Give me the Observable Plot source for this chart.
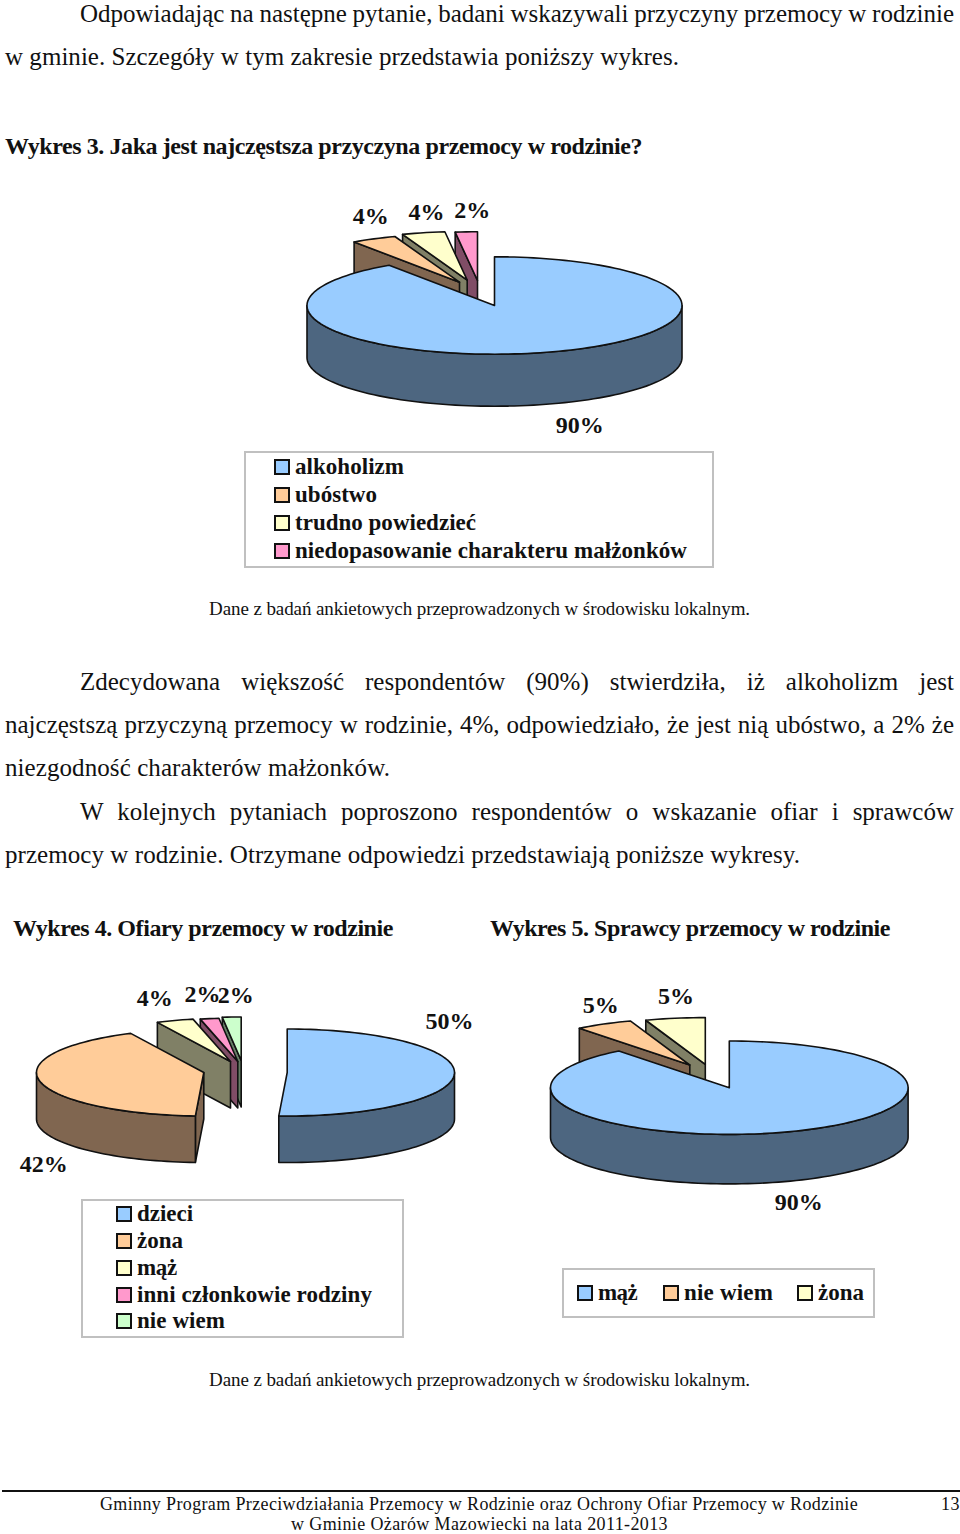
<!DOCTYPE html>
<html lang="pl">
<head>
<meta charset="utf-8">
<script src="https://cdn.jsdelivr.net/npm/d3@7"></script>
<script src="https://cdn.jsdelivr.net/npm/@observablehq/plot@0.6"></script>
<style>
html,body{margin:0;padding:0;background:#fff;}
#page{position:relative;width:960px;height:1534px;overflow:hidden;font-family:"Liberation Serif",serif;color:#111;}
#page>*{position:absolute;}
.ln{white-space:nowrap;line-height:30px;height:30px;}
.body{font-size:25px;}
.head{font-size:24px;font-weight:bold;}
.cap{font-size:19px;}
.foot{font-size:18px;line-height:20px;height:20px;}
.leg{font-size:23px;font-weight:bold;}
.box{border:2px solid #c0c0c0;box-sizing:border-box;}
.sw{width:16px;height:16px;box-sizing:border-box;border:2px solid #111;}
svg text{font-family:"Liberation Serif",serif;}
</style>
</head>
<body>
<div id="page"></div>
<script>
// ---- data ------------------------------------------------------------------
const categories3 = ["alkoholizm", "ubóstwo", "trudno powiedzieć", "niedopasowanie charakteru małżonków"];
const values3 = [90.5, 3.9, 3.7, 1.9];
const labels3 = ["90%", "4%", "4%", "2%"];

const categories4 = ["dzieci", "żona", "mąż", "inni członkowie rodziny", "nie wiem"];
const values4 = [50.8, 42, 3.6, 1.8, 1.8];
const labels4 = ["50%", "42%", "4%", "2%", "2%"];

const categories5 = ["mąż", "nie wiem", "żona"];
const values5 = [89.4, 5.2, 5.4];
const labels5 = ["90%", "5%", "5%"];

// ---- styles and layout ------------------------------------------------------
const topColors3 = ["#99CCFF", "#FFCC99", "#FFFFCC", "#FF99CC"];
const sideColors3 = ["#4D6680", "#806650", "#808066", "#804D66"];
const topColors4 = ["#99CCFF", "#FFCC99", "#FFFFCC", "#FF99CC", "#CCFFCC"];
const sideColors4 = ["#4D6680", "#806650", "#808066", "#804D66", "#668066"];
const topColors5 = ["#99CCFF", "#FFCC99", "#FFFFCC"];
const sideColors5 = ["#4D6680", "#806650", "#808066"];

const pies = [
  {values: values3, labels: labels3, tops: topColors3, sides: sideColors3,
   box: [290, 190, 700, 445], c: [494, 305], rx: 187.5, ry: 48.7, depth: 52,
   explode: [[0,0],[-35,-23.3],[-27.3,-25.4],[-17,-25]],
   nudge: [[30,73],[-3,-23],[3,-20],[6,-22]]},
  {values: values4, labels: labels4, tops: topColors4, sides: sideColors4,
   box: [10, 975, 480, 1185], c: [286.7, 1072], rx: 167.3, ry: 43.5, depth: 46.5,
   explode: [[0,0],[-83.4,0],[-56.7,-11],[-49.4,-11],[-46,-12]],
   nudge: [[-5,-52],[4,83],[-20,-22],[-7,-24],[4,-22]]},
  {values: values5, labels: labels5, tops: topColors5, sides: sideColors5,
   box: [535, 975, 925, 1225], c: [728.8, 1087.2], rx: 178.8, ry: 46.7, depth: 49.5,
   explode: [[0,0],[-39.5,-22.7],[-24,-23.4]],
   nudge: [[11,70],[-3,-19],[1,-22]]}
];

const texts = [
  ["Odpowiadając na następne pytanie, badani wskazywali przyczyny przemocy w rodzinie", 80, 954, 14, "body", 1],
  ["w gminie. Szczegóły w tym zakresie przedstawia poniższy wykres.", 5, 679, 57, "body", 0],
  ["Wykres 3. Jaka jest najczęstsza przyczyna przemocy w rodzinie?", 5, 642, 146, "head", 0],
  ["Dane z badań ankietowych przeprowadzonych w środowisku lokalnym.", 209, 750, 609, "cap", 0],
  ["Zdecydowana większość respondentów (90%) stwierdziła, iż alkoholizm jest", 80, 954, 682, "body", 1],
  ["najczęstszą przyczyną przemocy w rodzinie, 4%, odpowiedziało, że jest nią ubóstwo, a 2% że", 5, 954, 725, "body", 1],
  ["niezgodność charakterów małżonków.", 5, 390, 768, "body", 0],
  ["W kolejnych pytaniach poproszono respondentów o wskazanie ofiar i sprawców", 80, 954, 812, "body", 1],
  ["przemocy w rodzinie. Otrzymane odpowiedzi przedstawiają poniższe wykresy.", 5, 800, 855, "body", 0],
  ["Wykres 4. Ofiary przemocy w rodzinie", 13, 393, 928, "head", 0],
  ["Wykres 5. Sprawcy przemocy w rodzinie", 490, 890, 928, "head", 0],
  ["Dane z badań ankietowych przeprowadzonych w środowisku lokalnym.", 209, 750, 1380, "cap", 0],
  ["Gminny Program Przeciwdziałania Przemocy w Rodzinie oraz Ochrony Ofiar Przemocy w Rodzinie", 100, 858, 1503.5, "foot", 0],
  ["w Gminie Ożarów Mazowiecki na lata 2011-2013", 291, 668, 1523.8, "foot", 0],
  ["13", 941, 960, 1503.5, "foot", 0]
];

const legends = [
  {box: [244, 451, 714, 568], cats: categories3, colors: topColors3,
   items: [[274,295,404,467],[274,295,377,495],[274,295,476,523],[274,295,687,550.5]]},
  {box: [81, 1199, 404, 1338], cats: categories4, colors: topColors4,
   items: [[116,137,193,1214],[116,137,183,1241],[116,137,177,1268],[116,137,372,1295],[116,137,225,1321]]},
  {box: [562, 1268, 875, 1318], cats: categories5, colors: topColors5,
   items: [[577,598,637,1293],[663,684,773,1293],[797,818,864,1293]]}
];

// ---- drawing ----------------------------------------------------------------
const page = document.getElementById("page");

function addLine(t, x0, x1, yc, cls, justified) {
  const d = document.createElement("div");
  d.className = "ln " + cls;
  d.style.left = x0 + "px";
  d.style.top = (yc - (cls === "foot" ? 10 : 15)) + "px";
  const s = document.createElement("span");
  s.textContent = t;
  d.appendChild(s);
  page.appendChild(d);
  const natural = s.getBoundingClientRect().width;
  const target = x1 - x0;
  if (justified) {
    const spare = (target - natural) / (t.split(" ").length - 1);
    d.style.wordSpacing = spare + "px";
  } else {
    d.style.letterSpacing = ((target - natural) / t.length) + "px";
  }
}
texts.forEach(a => addLine(...a));

legends.forEach(l => {
  const b = document.createElement("div");
  b.className = "box";
  b.style.cssText = `left:${l.box[0]}px;top:${l.box[1]}px;width:${l.box[2]-l.box[0]}px;height:${l.box[3]-l.box[1]}px`;
  page.appendChild(b);
  l.items.forEach(([sx, tx, tx1, y], i) => {
    const s = document.createElement("div");
    s.className = "sw";
    s.style.cssText = `left:${sx}px;top:${y-8}px;background:${l.colors[i]}`;
    page.appendChild(s);
    addLine(l.cats[i], tx, tx1, y, "leg", 0);
  });
});

function drawPie(p) {
  const [cx, cy] = p.c;
  const arcs = d3.pie().sort(null)(p.values);
  const pt = (a, o) => [cx + o[0] + p.rx * Math.sin(a), cy + o[1] - p.ry * Math.cos(a)];
  const faces = [];
  let id = 0;
  const add = (poly, color) => { id++; poly.forEach(q => faces.push({id, x: q[0], y: q[1], color})); };
  const down = q => [q[0], q[1] + p.depth];
  const sweep = (a0, a1, o) => {
    const n = Math.max(2, Math.ceil((a1 - a0) / (Math.PI / 90)));
    return d3.range(n + 1).map(i => pt(a0 + (a1 - a0) * i / n, o));
  };
  // back slices first: the first (largest) slice lies over the others
  for (let i = arcs.length - 1; i >= 0; i--) {
    const {startAngle: a0, endAngle: a1} = arcs[i];
    const o = p.explode[i];
    const apex = [cx + o[0], cy + o[1]];
    if (i > 0) {
      const st = pt(a0, o);
      add([apex, st, down(st), down(apex)], p.sides[i]);
    }
    const w0 = Math.max(a0, Math.PI / 2), w1 = Math.min(a1, 3 * Math.PI / 2);
    if (w1 > w0) {
      const rim = sweep(w0, w1, o);
      add([...rim, ...rim.slice().reverse().map(down)], p.sides[i]);
    }
    add([apex, ...sweep(a0, a1, o)], p.tops[i]);
  }
  const labels = arcs.map((a, i) => {
    const q = pt((a.startAngle + a.endAngle) / 2, p.explode[i]);
    return {x: q[0] + p.nudge[i][0], y: q[1] + p.nudge[i][1], text: p.labels[i]};
  });
  const [x0, y0, x1, y1] = p.box;
  const w = x1 - x0, h = y1 - y0;
  const svg = Plot.plot({
    width: w, height: h, margin: 0,
    x: {domain: [x0, x1], range: [0, w], axis: null},
    y: {domain: [y0, y1], range: [0, h], axis: null},
    color: {type: "identity"},
    style: {background: "transparent", overflow: "visible"},
    marks: [
      Plot.line(faces, {x: "x", y: "y", z: "id", fill: "color", stroke: "#111", strokeWidth: 1.6, curve: "linear-closed", strokeLinejoin: "round"}),
      Plot.text(labels, {x: "x", y: "y", text: "text", fontSize: 24, fontWeight: "bold", fill: "#111"})
    ]
  });
  svg.style.left = x0 + "px";
  svg.style.top = y0 + "px";
  svg.style.position = "absolute";
  page.appendChild(svg);
}
pies.forEach(drawPie);

const rule = document.createElement("div");
rule.style.cssText = "left:2px;top:1490px;width:958px;height:2px;background:#111";
page.appendChild(rule);
</script>
</body>
</html>
